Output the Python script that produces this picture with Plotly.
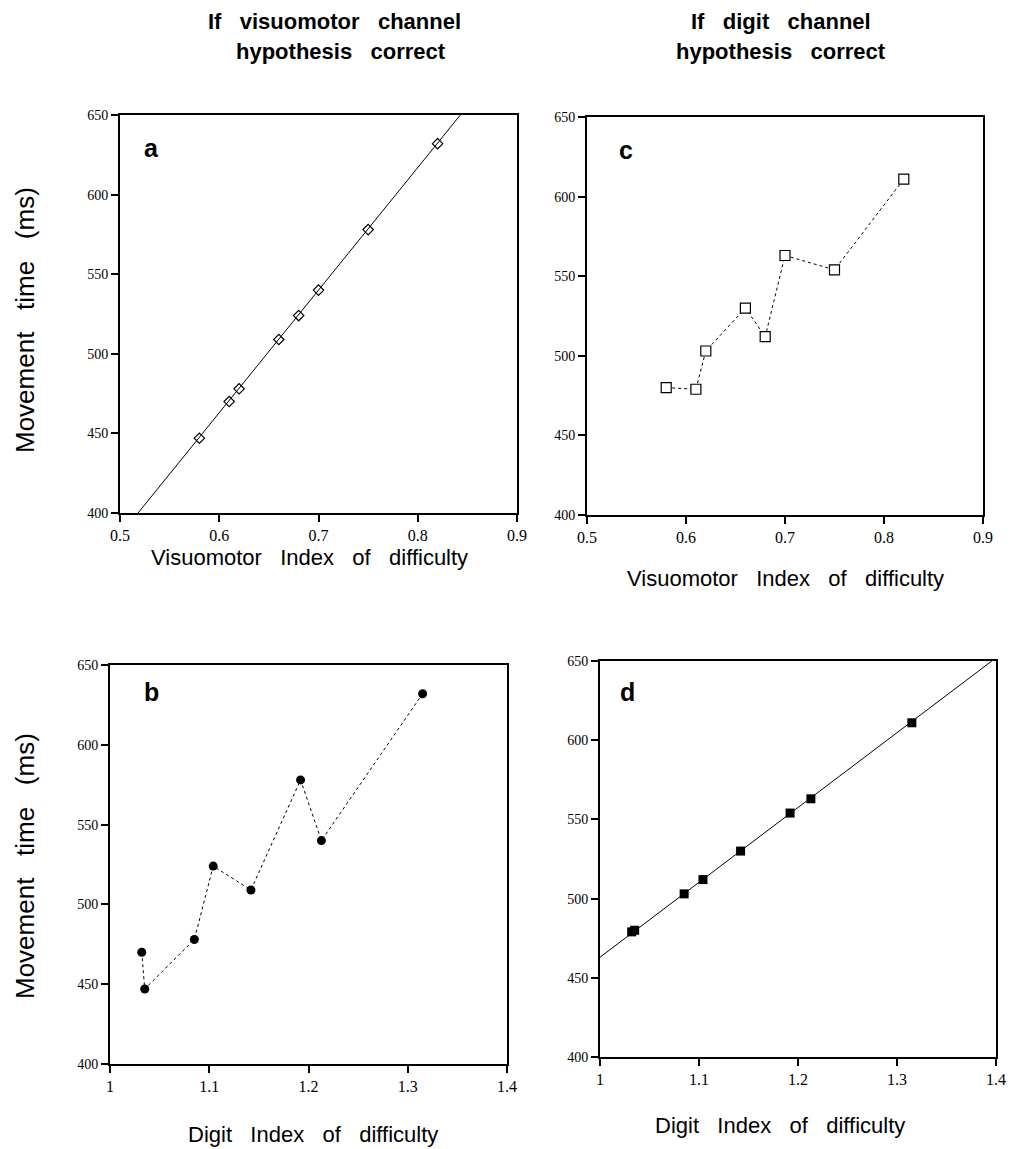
import plotly.graph_objects as go

# ---- data ----
vm_id = [0.58, 0.61, 0.62, 0.66, 0.68, 0.70, 0.75, 0.82]
digit_id = [1.035, 1.032, 1.085, 1.142, 1.104, 1.213, 1.192, 1.315]
mt_vm_hyp = [447, 470, 478, 509, 524, 540, 578, 632]      # panels a, b
mt_digit_hyp = [480, 479, 503, 530, 512, 563, 554, 611]   # panels c, d

fit_a_x = [0.50, 0.90]
fit_a_y = [386, 694]
fit_d_x = [1.00, 1.40]
fit_d_y = [463, 652]

vm_ticks = [0.5, 0.6, 0.7, 0.8, 0.9]
vm_ticklabels = ["0.5", "0.6", "0.7", "0.8", "0.9"]
digit_ticks = [1.0, 1.1, 1.2, 1.3, 1.4]
digit_ticklabels = ["1", "1.1", "1.2", "1.3", "1.4"]
mt_ticks = [400, 450, 500, 550, 600, 650]

W, H = 1021, 1149

def dom_x(a, b):
    return [a / W, b / W]

def dom_y(top, bottom):
    return [(H - bottom) / H, (H - top) / H]

# connect panel b / d points in order of digit ID
b_pairs = sorted(zip(digit_id, mt_vm_hyp))
b_x = [p[0] for p in b_pairs]
b_y = [p[1] for p in b_pairs]
d_pairs = sorted(zip(digit_id, mt_digit_hyp))
d_x = [p[0] for p in d_pairs]
d_y = [p[1] for p in d_pairs]

fig = go.Figure()

# panel a
fig.add_trace(go.Scatter(x=fit_a_x, y=fit_a_y, mode="lines",
                         line=dict(color="black", width=1), xaxis="x", yaxis="y",
                         showlegend=False, hoverinfo="skip"))
fig.add_trace(go.Scatter(x=vm_id, y=mt_vm_hyp, mode="markers",
                         marker=dict(symbol="diamond-open", size=8, color="black",
                                     line=dict(width=1.2, color="black")),
                         xaxis="x", yaxis="y", showlegend=False))
# panel c
fig.add_trace(go.Scatter(x=vm_id, y=mt_digit_hyp, mode="lines+markers",
                         line=dict(color="black", width=1, dash="3px,3px"),
                         marker=dict(symbol="square", size=10, color="white",
                                     line=dict(width=1.2, color="black")),
                         xaxis="x2", yaxis="y2", showlegend=False))
# panel b
fig.add_trace(go.Scatter(x=b_x, y=b_y, mode="lines+markers",
                         line=dict(color="black", width=1, dash="3px,3px"),
                         marker=dict(symbol="circle", size=9, color="black"),
                         xaxis="x3", yaxis="y3", showlegend=False))
# panel d
fig.add_trace(go.Scatter(x=fit_d_x, y=fit_d_y, mode="lines",
                         line=dict(color="black", width=1), xaxis="x4", yaxis="y4",
                         showlegend=False, hoverinfo="skip"))
fig.add_trace(go.Scatter(x=d_x, y=d_y, mode="markers",
                         marker=dict(symbol="square", size=9, color="black"),
                         xaxis="x4", yaxis="y4", showlegend=False))

serif = "Liberation Serif, Times New Roman, serif"
tickfont_x = dict(family=serif, size=16, color="black")
tickfont_y = dict(family=serif, size=14, color="black")

def xaxis(domain, anchor, rng, ticks, labels):
    return dict(domain=domain, anchor=anchor, range=rng, tickvals=ticks, ticktext=labels,
                showgrid=False, zeroline=False, showline=True, linecolor="black",
                linewidth=2, mirror=True, ticks="outside", ticklen=7, tickwidth=2,
                tickcolor="black", tickfont=tickfont_x, fixedrange=True,
                automargin=False)

def yaxis(domain, anchor):
    return dict(domain=domain, anchor=anchor, range=[400, 650], tickvals=mt_ticks,
                showgrid=False, zeroline=False, showline=True, linecolor="black",
                linewidth=2, mirror=True, ticks="outside", ticklen=7, tickwidth=2,
                tickcolor="black", tickfont=tickfont_y, fixedrange=True,
                automargin=False)

fig.update_layout(
    template="none",
    width=W, height=H, autosize=False,
    margin=dict(l=0, r=0, t=0, b=0, autoexpand=False),
    paper_bgcolor="white", plot_bgcolor="white",
    xaxis=xaxis(dom_x(120, 517), "y", [0.5, 0.9], vm_ticks, vm_ticklabels),
    yaxis=yaxis(dom_y(115, 513), "x"),
    xaxis2=xaxis(dom_x(587, 983), "y2", [0.5, 0.9], vm_ticks, vm_ticklabels),
    yaxis2=yaxis(dom_y(117, 515), "x2"),
    xaxis3=xaxis(dom_x(110, 507), "y3", [1.0, 1.4], digit_ticks, digit_ticklabels),
    yaxis3=yaxis(dom_y(665, 1064), "x3"),
    xaxis4=xaxis(dom_x(600, 996), "y4", [1.0, 1.4], digit_ticks, digit_ticklabels),
    yaxis4=yaxis(dom_y(661, 1057), "x4"),
)

sans = "Liberation Sans, Arial, Helvetica, sans-serif"

def gap(n):
    return "\u00a0" * n

def ann(text, x, y, size, bold=False, angle=0):
    fig.add_annotation(text=("<b>%s</b>" % text) if bold else text,
                       x=x / W, y=1 - y / H, xref="paper", yref="paper",
                       showarrow=False, textangle=angle,
                       font=dict(family=sans, size=size, color="black"),
                       xanchor="center", yanchor="middle")

# column headers
hg = gap(3)
ann("If" + hg + "visuomotor" + hg + "channel", 334, 22, 22, bold=True)
ann("hypothesis" + hg + "correct", 341, 51, 22, bold=True)
ann("If" + hg + "digit" + hg + "channel", 781, 22, 22, bold=True)
ann("hypothesis" + hg + "correct", 781, 51, 22, bold=True)

# panel letters
ann("a", 151, 148, 25, bold=True)
ann("c", 626, 150, 25, bold=True)
ann("b", 151, 692, 25, bold=True)
ann("d", 627, 692, 25, bold=True)

# x-axis titles
xg = gap(3)
ann("Visuomotor" + xg + "Index" + xg + "of" + xg + "difficulty", 309, 557, 22)
ann("Visuomotor" + xg + "Index" + xg + "of" + xg + "difficulty", 785, 578, 22)
ann("Digit" + xg + "Index" + xg + "of" + xg + "difficulty", 313, 1134, 22)
ann("Digit" + xg + "Index" + xg + "of" + xg + "difficulty", 780, 1125, 22)

# y-axis titles
yg = gap(3)
ann("Movement" + yg + "time" + yg + "(ms)", 25, 320, 26, angle=-90)
ann("Movement" + yg + "time" + yg + "(ms)", 25, 866, 26, angle=-90)

fig.write_html("out.html",
               config={"displayModeBar": False},
               post_script="document.body.style.margin='0';document.body.style.overflow='hidden';")
